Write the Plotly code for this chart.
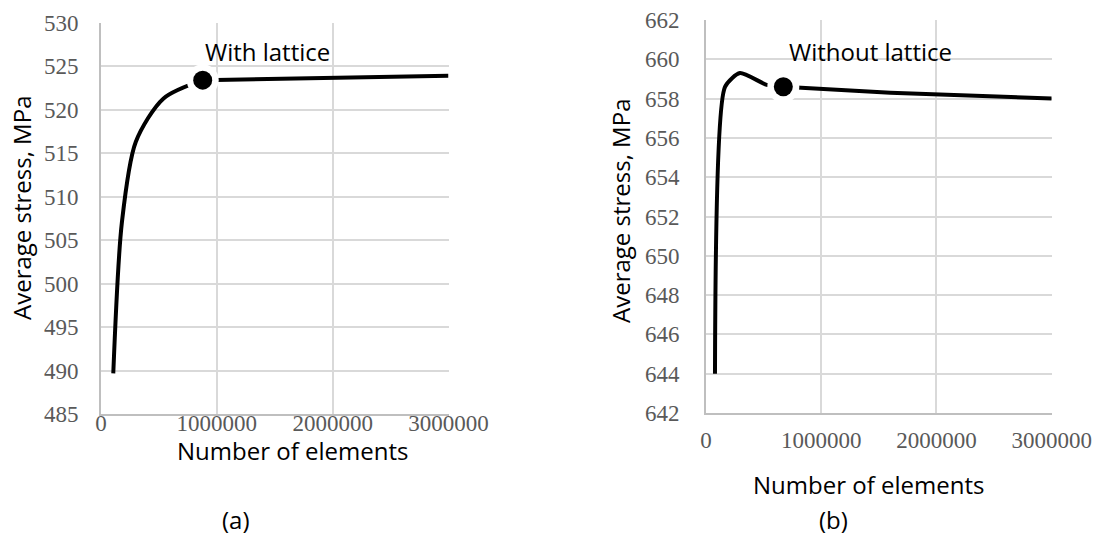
import plotly.graph_objects as go

# Mesh convergence study: average stress vs number of elements
elements_lattice = [106000, 180000, 300000, 540000, 878000, 3000000]
stress_lattice = [489.7, 507.0, 516.3, 521.3, 523.4, 523.9]
chosen_lattice = (878000, 523.4)

elements_solid = [78000, 165000, 295000, 527000, 671000, 1600000, 3000000]
stress_solid = [644.0, 658.6, 659.3, 658.7, 658.6, 658.3, 658.0]
chosen_solid = (671000, 658.6)

x_ticks = [0, 1000000, 2000000, 3000000]
x_tick_text = ["0", "1000000", "2000000", "3000000"]

W, H = 1100, 544
TITLE_FONT = dict(family="Open Sans", size=24, color="#000000")
TICK_FONT = dict(family="Liberation Serif", size=23, color="#595959")
GRID = "#d9d9d9"
AXIS = "#bfbfbf"

fig = go.Figure()

# curves: smooth rise up to the chosen mesh, straight run after it
fig.add_trace(go.Scatter(x=elements_lattice[:5], y=stress_lattice[:5], mode="lines",
                         line=dict(color="black", width=4, shape="spline", smoothing=0.8),
                         xaxis="x", yaxis="y", showlegend=False, hoverinfo="skip"))
fig.add_trace(go.Scatter(x=elements_lattice[4:], y=stress_lattice[4:], mode="lines",
                         line=dict(color="black", width=4),
                         xaxis="x", yaxis="y", showlegend=False, hoverinfo="skip"))
fig.add_trace(go.Scatter(x=elements_solid[:5], y=stress_solid[:5], mode="lines",
                         line=dict(color="black", width=4, shape="spline", smoothing=0.6),
                         xaxis="x2", yaxis="y2", showlegend=False, hoverinfo="skip"))
fig.add_trace(go.Scatter(x=elements_solid[4:], y=stress_solid[4:], mode="lines",
                         line=dict(color="black", width=4, shape="spline", smoothing=0.6),
                         xaxis="x2", yaxis="y2", showlegend=False, hoverinfo="skip"))

# highlighted mesh: white halo then black dot
for (px, py), xa, ya in [(chosen_lattice, "x", "y"), (chosen_solid, "x2", "y2")]:
    fig.add_trace(go.Scatter(x=[px], y=[py], mode="markers",
                             marker=dict(color="white", size=32),
                             xaxis=xa, yaxis=ya, showlegend=False, hoverinfo="skip"))
    fig.add_trace(go.Scatter(x=[px], y=[py], mode="markers",
                             marker=dict(color="black", size=19),
                             xaxis=xa, yaxis=ya, showlegend=False, hoverinfo="skip"))

def px_x(p):
    return p / W

def px_y(p):
    return 1 - p / H

common_x = dict(range=[0, 3000000], tickvals=x_ticks, ticktext=x_tick_text,
                showgrid=True, gridcolor=GRID, gridwidth=2,
                showline=True, linecolor=AXIS, linewidth=2, automargin=False,
                zeroline=False, ticks="", tickfont=TICK_FONT, fixedrange=True)
common_y = dict(showgrid=True, gridcolor=GRID, gridwidth=2,
                showline=True, linecolor=AXIS, linewidth=2, automargin=False,
                zeroline=False, ticks="", tickfont=TICK_FONT, fixedrange=True)

fig.update_layout(
    width=W, height=H,
    margin=dict(l=0, r=0, t=0, b=0, autoexpand=False),
    paper_bgcolor="white", plot_bgcolor="white",
    xaxis=dict(domain=[px_x(101), px_x(448.5)], anchor="y",
               ticklabelstandoff=-13, **common_x),
    yaxis=dict(domain=[px_y(414.3), px_y(22.7)], anchor="x",
               range=[485, 530], dtick=5, ticklabelstandoff=16, **common_y),
    xaxis2=dict(domain=[px_x(706), px_x(1051.7)], anchor="y2",
                ticklabelstandoff=5, **common_x),
    yaxis2=dict(domain=[px_y(413), px_y(20)], anchor="x2",
                range=[642, 662], dtick=2, ticklabelstandoff=20, **common_y),
)

annotations = [
    # point labels
    dict(text="With lattice", x=chosen_lattice[0], y=526.7, xref="x", yref="y",
         xanchor="left", yanchor="middle", showarrow=False, font=TITLE_FONT),
    dict(text="Without lattice", x=chosen_solid[0] + 30000, y=660.4, xref="x2", yref="y2",
         xanchor="left", yanchor="middle", showarrow=False, font=TITLE_FONT),
    # axis titles
    dict(text="Average stress, MPa", x=px_x(21), y=px_y(208), xref="paper", yref="paper",
         textangle=-90, xanchor="center", yanchor="middle", showarrow=False, font=TITLE_FONT),
    dict(text="Average stress, MPa", x=px_x(620), y=px_y(211), xref="paper", yref="paper",
         textangle=-90, xanchor="center", yanchor="middle", showarrow=False, font=TITLE_FONT),
    dict(text="Number of elements", x=px_x(292), y=px_y(450), xref="paper", yref="paper",
         xanchor="center", yanchor="middle", showarrow=False, font=TITLE_FONT),
    dict(text="Number of elements", x=px_x(868), y=px_y(484), xref="paper", yref="paper",
         xanchor="center", yanchor="middle", showarrow=False, font=TITLE_FONT),
    # panel captions
    dict(text="(a)", x=px_x(236), y=px_y(519), xref="paper", yref="paper",
         xanchor="center", yanchor="middle", showarrow=False, font=TITLE_FONT),
    dict(text="(b)", x=px_x(833), y=px_y(519), xref="paper", yref="paper",
         xanchor="center", yanchor="middle", showarrow=False, font=TITLE_FONT),
]
fig.update_layout(annotations=annotations)

fig.write_html("out.html")
